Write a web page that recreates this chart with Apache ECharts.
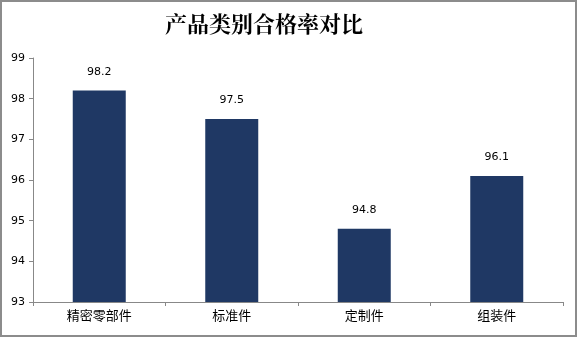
<!DOCTYPE html>
<html><head><meta charset="utf-8">
<script src="https://cdn.jsdelivr.net/npm/echarts@6/dist/echarts.min.js"></script>
<style>html,body{margin:0;padding:0;background:#fff}#c{width:577px;height:337px}</style>
</head><body><div id="c"></div>
<script>
const categories = ['精密零部件', '标准件', '定制件', '组装件'];
const passRates = [98.2, 97.5, 94.8, 96.1];
const yTicks = [93, 94, 95, 96, 97, 98, 99];

const chart = echarts.init(document.getElementById('c'), null, {renderer: 'canvas'});
chart.setOption({
  animation: false,
  backgroundColor: '#fff',
  title: {
    text: '产品类别合格率对比', left: 160, top: 8,
    textStyle: {fontFamily: 'Noto Serif CJK SC, Noto Sans CJK SC', fontSize: 22, fontWeight: 'bold', color: '#000'}
  },
  graphic: [{type: 'rect', shape: {x: 1, y: 1, width: 575, height: 335}, style: {fill: 'none', stroke: '#8c8c8c', lineWidth: 2}, silent: true}],
  grid: {left: 33, right: 14, top: 58, bottom: 35, containLabel: false},
  xAxis: {
    type: 'category', data: categories,
    axisLine: {lineStyle: {color: '#888', width: 1}},
    axisTick: {show: true, alignWithLabel: false, length: 4, lineStyle: {color: '#888'}},
    axisLabel: {color: '#000', fontSize: 13, fontFamily: 'Noto Sans CJK SC', margin: 7}
  },
  yAxis: {
    type: 'value', min: yTicks[0], max: yTicks[yTicks.length - 1], interval: 1,
    axisLine: {show: true, lineStyle: {color: '#888', width: 1}},
    axisTick: {show: true, length: 4, lineStyle: {color: '#888'}},
    splitLine: {show: false},
    axisLabel: {color: '#000', fontSize: 11, fontFamily: 'DejaVu Sans', margin: 8}
  },
  series: [{
    type: 'bar', data: passRates, barWidth: '40%',
    itemStyle: {color: '#1F3864'},
    label: {show: true, position: 'top', distance: 13, color: '#000', fontSize: 11, fontFamily: 'DejaVu Sans'}
  }]
});
</script></body></html>
